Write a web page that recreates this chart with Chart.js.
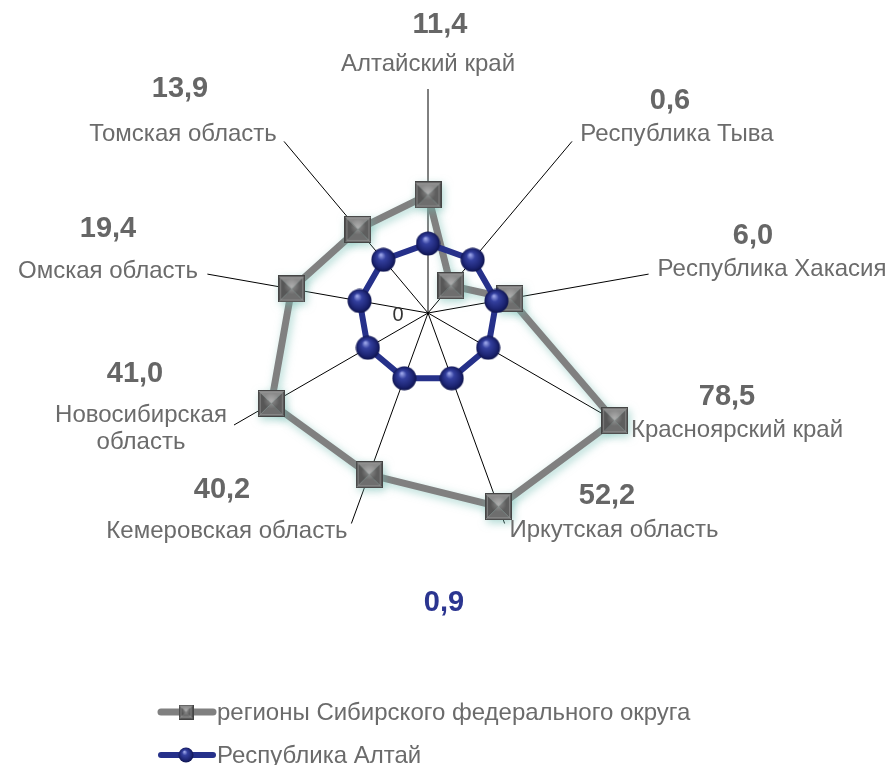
<!DOCTYPE html>
<html>
<head>
<meta charset="utf-8">
<script src="https://cdn.jsdelivr.net/npm/chart.js@4"></script>
<style>
  html, body { margin: 0; padding: 0; background: #fff; }
  #wrap { width: 890px; height: 765px; position: relative; }
</style>
</head>
<body>
<div id="wrap"><canvas id="radar" width="890" height="765"></canvas></div>
<script>
// categories (spokes, clockwise from top)
const regions = ['Алтайский край', 'Республика Тыва', 'Республика Хакасия', 'Красноярский край',
  'Иркутская область', 'Кемеровская область', 'Новосибирская область', 'Омская область', 'Томская область'];
// numbers printed next to each region
const regionNumbers = ['11,4', '0,6', '6,0', '78,5', '52,2', '40,2', '41,0', '19,4', '13,9'];
// plotted values (axis 0..100)
const sfoValues = [52.7, 15.9, 37.1, 96.2, 92.0, 76.8, 80.8, 61.8, 48.7];
const altaiValues = [31, 31, 31, 31, 31, 31, 31, 31, 31];
const altaiNumber = '0,9';
const seriesNames = ['регионы Сибирского федерального округа', 'Республика Алтай'];

const FONT = '"Liberation Sans", Arial, sans-serif';
const TEXT = '#6b6b6b';
const GRAY = '#808080';
const NAVY = '#26318a';

// where each label block sits: [x of number, y of number, x of name, y of name]
const labelPos = [
  [440, 25, 428, 64],
  [670, 101, 677, 134],
  [753, 236, 772, 269],
  [727, 397, 737, 430],
  [607, 496, 614, 530],
  [222, 490, 227, 531],
  [135, 374, 141, 415],
  [108, 229, 108, 271],
  [180, 89, 183, 134]
];

function makeSquare(s){
  const c = document.createElement('canvas');
  c.width = c.height = s;
  const g = c.getContext('2d');
  const m = s / 2;
  function tri(pts, col){
    g.beginPath(); g.moveTo(pts[0][0], pts[0][1]);
    g.lineTo(pts[1][0], pts[1][1]); g.lineTo(pts[2][0], pts[2][1]);
    g.closePath(); g.fillStyle = col; g.fill();
  }
  tri([[0,0],[s,0],[m,m]], '#8a8a8a');
  tri([[0,0],[m,m],[0,s]], '#575757');
  tri([[s,0],[s,s],[m,m]], '#5e5e5e');
  tri([[0,s],[s,s],[m,m]], '#6e6e6e');
  const hl = g.createRadialGradient(m, m * 0.8, 0, m, m * 0.8, m * 0.6);
  hl.addColorStop(0, 'rgba(255,255,255,0.3)');
  hl.addColorStop(1, 'rgba(255,255,255,0)');
  g.fillStyle = hl; g.fillRect(0, 0, s, s);
  g.strokeStyle = '#454545'; g.lineWidth = 1;
  g.strokeRect(0.5, 0.5, s - 1, s - 1);
  g.strokeStyle = 'rgba(150,150,150,0.6)';
  g.strokeRect(2.5, 2.5, s - 5, s - 5);
  return c;
}

function makeSphere(s){
  const c = document.createElement('canvas');
  c.width = c.height = s;
  const g = c.getContext('2d');
  const r = s / 2;
  const gr = g.createRadialGradient(r * 0.8, r * 0.6, r * 0.05, r, r, r);
  gr.addColorStop(0, '#9aa4e8');
  gr.addColorStop(0.3, '#34409f');
  gr.addColorStop(0.75, '#1c2472');
  gr.addColorStop(1, '#0c1148');
  g.fillStyle = gr;
  g.beginPath(); g.arc(r, r, r - 0.5, 0, Math.PI * 2); g.fill();
  return c;
}

const squareBig = makeSquare(27), sphereBig = makeSphere(25);
const squareSmall = makeSquare(15), sphereSmall = makeSphere(16);

const glowPlugin = {
  id: 'glow',
  beforeDatasetDraw(chart, args){
    if (args.index !== 1) return;
    const ctx = chart.ctx;
    ctx.save();
    ctx.shadowColor = 'rgba(110,185,175,0.55)';
    ctx.shadowBlur = 9;
    ctx.shadowOffsetX = 2;
    ctx.shadowOffsetY = 3;
  },
  afterDatasetDraw(chart, args){
    if (args.index !== 1) return;
    chart.ctx.restore();
  }
};

const labelsPlugin = {
  id: 'labels',
  afterDraw(chart){
    const ctx = chart.ctx;
    const sc = chart.scales.r;
    ctx.save();
    ctx.textAlign = 'center';
    ctx.textBaseline = 'middle';
    regions.forEach((name, i) => {
      const p = labelPos[i];
      ctx.font = 'bold 29px ' + FONT;
      ctx.fillStyle = '#666';
      ctx.fillText(regionNumbers[i], p[0], p[1]);
      ctx.font = '24px ' + FONT;
      ctx.fillStyle = TEXT;
      if (name === 'Новосибирская область') {
        ctx.fillText('Новосибирская', p[2], p[3]);
        ctx.fillText('область', p[2], p[3] + 27);
      } else {
        ctx.fillText(name, p[2], p[3]);
      }
    });
    // radial axis zero
    ctx.font = '20px ' + FONT;
    ctx.fillStyle = '#333';
    ctx.fillText('0', sc.xCenter - 30, sc.yCenter + 2);
    // Altai value
    ctx.font = 'bold 29px ' + FONT;
    ctx.fillStyle = '#2b3590';
    ctx.fillText(altaiNumber, 444, 603);

    // legend
    const items = [
      { y: 712, color: GRAY, w: 7, img: squareSmall },
      { y: 755, color: NAVY, w: 6, img: sphereSmall }
    ];
    items.forEach((it, k) => {
      ctx.beginPath();
      ctx.lineCap = 'round';
      ctx.strokeStyle = it.color; ctx.lineWidth = it.w;
      ctx.moveTo(161, it.y); ctx.lineTo(213, it.y); ctx.stroke();
      ctx.drawImage(it.img, 186 - it.img.width / 2, it.y - it.img.height / 2);
      ctx.font = '24px ' + FONT;
      ctx.fillStyle = TEXT;
      ctx.textAlign = 'left';
      ctx.fillText(seriesNames[k], 217, it.y + 1);
    });
    ctx.restore();
  }
};

new Chart(document.getElementById('radar'), {
  type: 'radar',
  data: {
    labels: regions,
    datasets: [
      {
        label: seriesNames[1],
        data: altaiValues,
        borderColor: NAVY,
        borderWidth: 6,
        backgroundColor: 'transparent',
        fill: false,
        pointStyle: sphereBig,
        order: 0
      },
      {
        label: seriesNames[0],
        data: sfoValues,
        borderColor: GRAY,
        borderWidth: 7,
        backgroundColor: 'transparent',
        fill: false,
        pointStyle: squareBig,
        order: 1
      }
    ]
  },
  options: {
    responsive: false,
    animation: false,
    layout: { padding: { left: 204, right: 238, top: 89, bottom: 228 } },
    elements: { line: { tension: 0, borderJoinStyle: 'round' } },
    scales: {
      r: {
        min: 0,
        max: 100,
        ticks: { display: false },
        grid: { display: false },
        angleLines: { display: true, color: '#000', lineWidth: 1 },
        pointLabels: { display: false }
      }
    },
    plugins: { legend: { display: false }, tooltip: { enabled: false } }
  },
  plugins: [glowPlugin, labelsPlugin]
});
</script>
</body>
</html>
